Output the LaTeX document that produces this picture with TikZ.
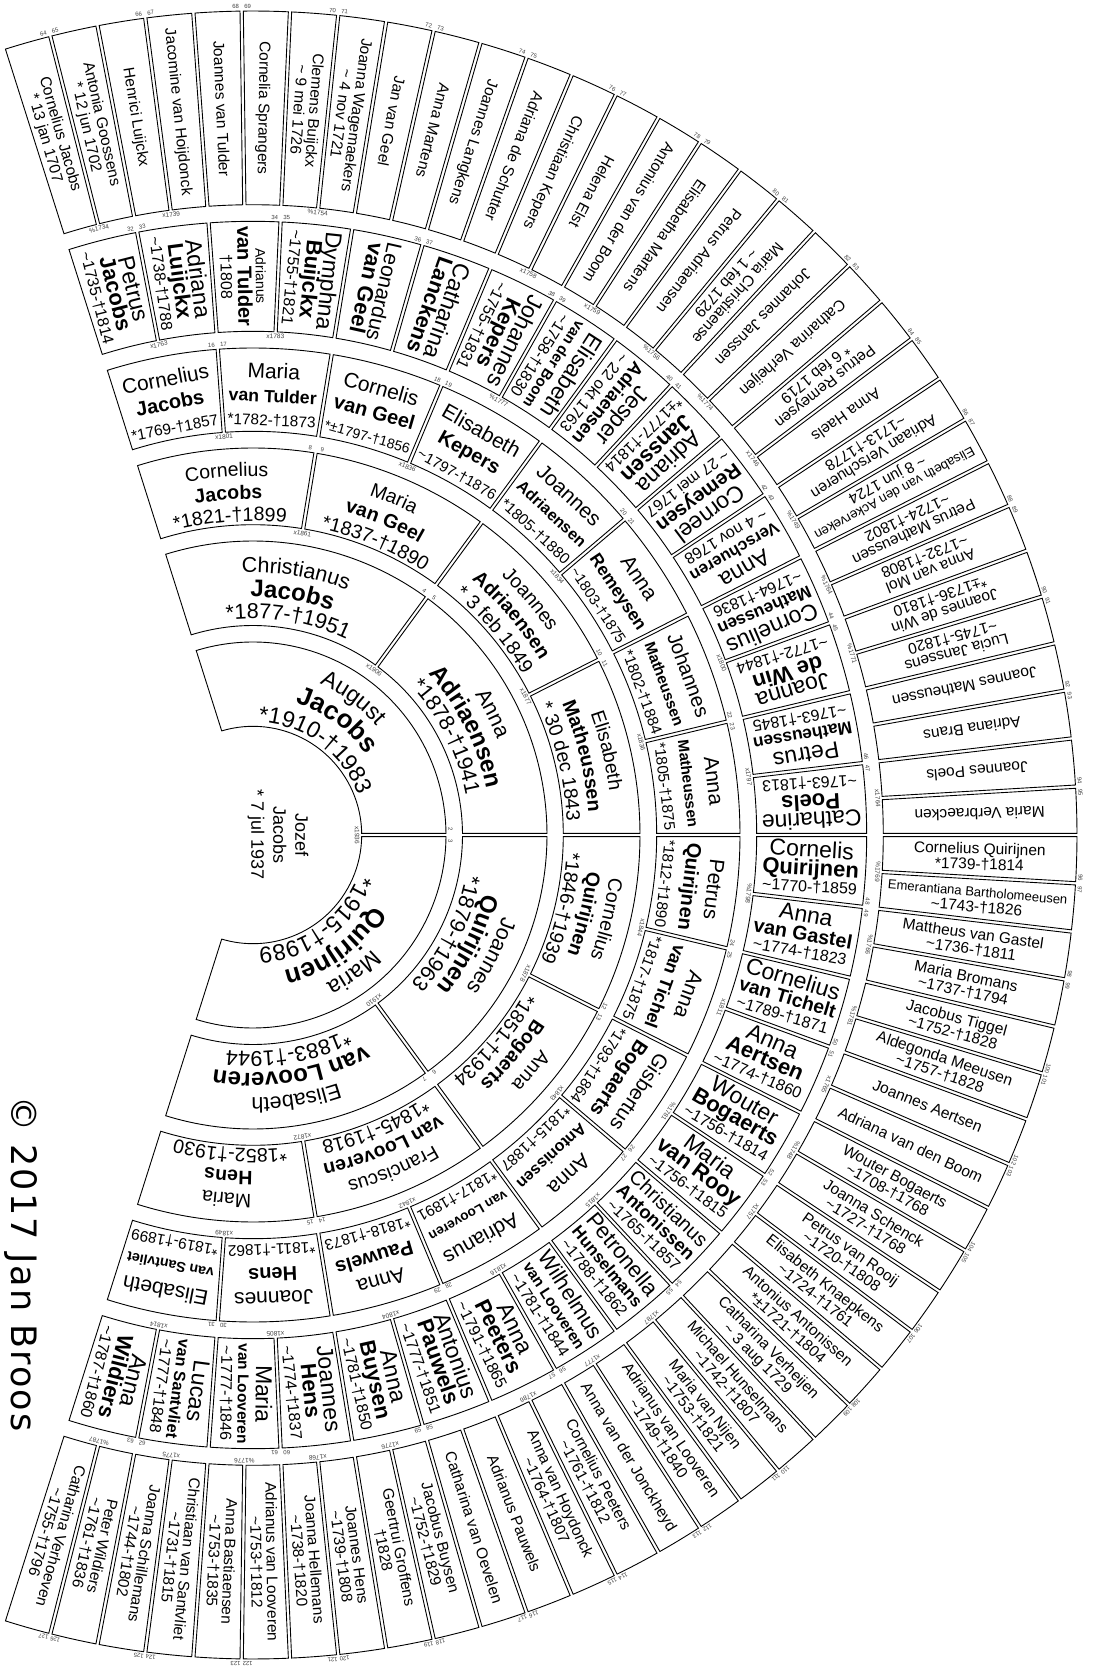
\documentclass[tikz,border=0pt]{standalone}
\usepackage{fontspec}
\usepackage{graphicx}
\setmainfont{Liberation Sans}
\newfontfamily\copyfont[LetterSpace=6]{DejaVu Sans}
\usetikzlibrary{decorations.text}

\newcommand{\fs}[1]{\fontsize{#1}{#1}\selectfont}
\newcommand{\Tl}{\symbol{"7E}}
% shrink a line if it is wider than #1
\newsavebox{\fitbox}
\newcommand{\fitw}[2]{\sbox{\fitbox}{#2}\ifdim\wd\fitbox>#1\relax\resizebox{#1}{!}{\usebox{\fitbox}}\else\usebox{\fitbox}\fi}

% one cell of the fan: inner radius, outer radius, upper angle, lower angle
\newcommand{\cellbox}[4]{%
  \pgfmathsetmacro\dI{asin(1.65/#1)}%
  \pgfmathsetmacro\dO{asin(1.65/#2)}%
  \pgfmathsetmacro\aO{#3-\dO}\pgfmathsetmacro\bO{#4+\dO}%
  \pgfmathsetmacro\aI{#3-\dI}\pgfmathsetmacro\bI{#4+\dI}%
  \draw[cellline] (\aO:#2) arc[start angle=\aO,end angle=\bO,radius=#2]
    -- (\bI:#1) arc[start angle=\bI,end angle=\aI,radius=#1] -- cycle;}

% text on arcs (generations 1-3)
\newcommand{\arcline}[2]{%
  \path[decorate,decoration={text along path,text align=center,text={#2}}]
    (\ta:#1) arc[start angle=\ta,end angle=\tb,radius=#1];}
\newcommand{\curvcell}[4]{%
  \pgfmathsetmacro\ta{107.6-(#1-1)*\cw}%
  \pgfmathsetmacro\tb{107.6-#1*\cw}%
  \arcline{\bA}{|\fs{\fA}|#2}
  \arcline{\bB}{|\fs{\fB}\bfseries|#3}
  \arcline{\bC}{|\fs{\fC}|#4}}

% one straight line of text: name, angle, radius, side offset, rotation, text
\newcommand{\lineat}[6]{%
  \pgfmathsetmacro\px{#3*cos(#2)+#4*cos(#5+90)}%
  \pgfmathsetmacro\py{#3*sin(#2)+#4*sin(#5+90)}%
  \node[textline,rotate=#5] (#1) at (\px,\py) {#6};}

% generation 4: tangential lines
\newcommand{\gfour}[4]{%
  \pgfmathsetmacro\tc{107.6-(#1-16+0.5)*13.45}%
  \lineat{p#1a}{\tc}{457}{0}{\tc-90}{\fitw{88pt}{\fs{21}#2}}
  \lineat{p#1b}{\tc}{433}{0}{\tc-90}{\fitw{88pt}{\fs{20}\bfseries #3}}
  \lineat{p#1c}{\tc}{409.5}{0}{\tc-90}{\fitw{88pt}{\fs{15.5}#4}}}
% generation 5: radial lines
\newcommand{\gfive}[4]{%
  \pgfmathsetmacro\tc{107.6-(#1-32+0.5)*6.725}%
  \pgfmathsetmacro\rr{\tc<0 ? \tc : \tc+180}%
  \if\relax\detokenize{#4}\relax
    \lineat{p#1a}{\tc}{558.7}{1.5}{\rr}{\fitw{100pt}{\fs{23}#2}}
    \lineat{p#1b}{\tc}{558.7}{-16.5}{\rr}{\fitw{100pt}{\fs{22}\bfseries #3}}
  \else
    \lineat{p#1a}{\tc}{558.7}{10.5}{\rr}{\fitw{100pt}{\fs{23}#2}}
    \lineat{p#1b}{\tc}{558.7}{-7.5}{\rr}{\fitw{100pt}{\fs{22}\bfseries #3}}
    \lineat{p#1c}{\tc}{558.7}{-24.5}{\rr}{\fitw{100pt}{\fs{16}#4}}
  \fi}
% generation 6: radial lines
\newcommand{\gsix}[3]{%
  \pgfmathsetmacro\tc{107.6-(#1-64+0.5)*3.3625}%
  \pgfmathsetmacro\rr{\tc<0 ? \tc : \tc+180}%
  \if\relax\detokenize{#3}\relax
    \lineat{p#1a}{\tc}{727}{-5.5}{\rr}{\fitw{180pt}{#2}}
  \else
    \lineat{p#1a}{\tc}{727}{2.3}{\rr}{\fitw{180pt}{#2}}
    \lineat{p#1b}{\tc}{727}{-13.3}{\rr}{\fitw{180pt}{#3}}
  \fi}
% marriage year under a couple: inner radius, cell width, boundary, text
\newcommand{\marr}[4]{%
  \pgfmathsetmacro\tm{107.6-#3*#2}%
  \node[marrlabel,rotate=\tm-90] (m#3) at ({\tm}:{#1-4.5}) {#4};}

\begin{document}
\begin{tikzpicture}[
    x=1pt, y=1pt,
    cellline/.style={line width=0.9pt, line join=miter},
    sosa/.style={font=\fs{6}, inner sep=0pt, text=black!75},
    marrlabel/.style={font=\fs{6.5}, inner sep=0pt, text=black!75},
    textline/.style={anchor=base, inner sep=0pt, font=\fs{15.5}}
    ]
    \useasboundingbox (-253,-831) rectangle (842,835);
    \fill[white] (-253,-831) rectangle (842,835);

    % rings of cells and Sosa numbers
    \foreach \n/\ri/\ro in {2/108.7/193,4/209.5/294,8/310.3/387,16/403.7/487,32/503.7/613.7,64/630.3/824}{%
      \pgfmathsetmacro\w{215.2/\n}%
      \foreach \k in {1,...,\n}{%
        \pgfmathsetmacro\ta{107.6-(\k-1)*\w}%
        \pgfmathsetmacro\tb{107.6-\k*\w}%
        \cellbox{\ri}{\ro}{\ta}{\tb}}%
      \pgfmathtruncatemacro\m{\n/2}%
      \foreach \j in {1,...,\m}{%
        \pgfmathsetmacro\tb{107.6-(2*\j-1)*\w}%
        \pgfmathsetmacro\off{deg(6/\ro)}%
        \pgfmathtruncatemacro\sa{\n+2*\j-2}%
        \pgfmathtruncatemacro\sb{\sa+1}%
        \node[sosa,rotate=\tb-90] (n\sa) at ({\tb+\off}:{\ro+4.5}) {\sa};
        \node[sosa,rotate=\tb-90] (n\sb) at ({\tb-\off}:{\ro+4.5}) {\sb};}}

    % marriages
    \marr{108.7}{107.6}{1}{x1936}
    \foreach \k/\y in {1/x1906,3/x1910}{\marr{209.5}{53.8}{\k}{\y}}
    \foreach \k/\y in {1/x1861,3/x1877,5/x1878,7/x1872}{\marr{310.3}{26.9}{\k}{\y}}
    \foreach \k/\y in {1/x1801,3/x1836,5/x1834,7/x1836,9/x1844,11/x1843,13/x1842,15/x1849}{\marr{403.7}{13.45}{\k}{\y}}
    \foreach \k/\y in {1/x1763,3/x1783,7/\%1777,13/x1800,15/x1797,17/\%1798,19/x1811,21/\%1781,23/x1815,25/x1816,27/x1804,29/x1805,31/x1814}{\marr{503.7}{6.725}{\k}{\y}}
    \foreach \k/\y in {1/\%1734,3/x1739,7/\%1754,13/x1758,15/x1759,17/\%1756,19/\%1774,21/x1746,23/\%1749,25/\%1764,27/\%1771,31/x1764,33/\%1769,35/\%1766,37/\%1781,39/x1765,41/\%1748,43/x1757,47/x1787,49/x1777,51/x1786,55/x1776,57/x1768,59/\%1776,61/x1775,63/\%1787}{\marr{630.3}{3.3625}{\k}{\y}}

    % generation 0
    \node[align=center, font=\fontsize{18}{22}\selectfont, rotate=-90] (p1) at (25,0) {Jozef\\Jacobs\\* 7 jul 1937};

    % generation 1
    \def\cw{107.6}\def\fA{23}\def\fB{26}\def\fC{23}\def\bA{165}\def\bB{139}\def\bC{113}
    \curvcell{1}{August}{Jacobs}{*1910-†1983}
    \curvcell{2}{Maria}{Quirijnen}{*1915-†1989}

    % generation 2
    \def\cw{53.8}\def\fA{21.5}\def\fB{24}\def\fC{21.5}\def\bA{262.5}\def\bB{238}\def\bC{216.5}
    \curvcell{1}{Christianus}{Jacobs}{*1877-†1951}
    \curvcell{2}{Anna}{Adriaensen}{*1878-†1941}
    \curvcell{3}{Joannes}{Quirijnen}{*1879-†1963}
    \curvcell{4}{Elisabeth}{van Looveren}{*1883-†1944}

    % generation 3
    \def\cw{26.9}\def\fA{19.5}\def\fB{19.5}\def\fC{19.5}\def\bA{359}\def\bB{336}\def\bC{314}
    \curvcell{1}{Cornelius}{Jacobs}{*1821-†1899}
    \curvcell{2}{Maria}{van Geel}{*1837-†1890}
    \curvcell{3}{Joannes}{Adriaensen}{* 3 feb 1849}
    \curvcell{4}{Elisabeth}{Matheussen}{* 30 dec 1843}
    \curvcell{5}{Cornelius}{Quirijnen}{*1846-†1939}
    \curvcell{6}{Anna}{Bogaerts}{*1851-†1934}
    \curvcell{7}{Franciscus}{van Looveren}{*1845-†1918}
    \curvcell{8}{Maria}{Hens}{*1852-†1930}

    % generation 4
    \gfour{16}{Cornelius}{Jacobs}{*1769-†1857}
    \gfour{17}{Maria}{van Tulder}{*1782-†1873}
    \gfour{18}{Cornelis}{van Geel}{*±1797-†1856}
    \gfour{19}{Elisabeth}{Kepers}{\Tl1797-†1876}
    \gfour{20}{Joannes}{Adriaensen}{*1805-†1880}
    \gfour{21}{Anna}{Remeysen}{\Tl1803-†1875}
    \gfour{22}{Johannes}{Matheussen}{*1802-†1884}
    \gfour{23}{Anna}{Matheussen}{*1805-†1875}
    \gfour{24}{Petrus}{Quirijnen}{*1812-†1890}
    \gfour{25}{Anna}{van Tichel}{*1817-†1875}
    \gfour{26}{Gisbertus}{Bogaerts}{*1793-†1864}
    \gfour{27}{Anna}{Antonissen}{*1815-†1887}
    \gfour{28}{Adrianus}{van Looveren}{*1817-†1891}
    \gfour{29}{Anna}{Pauwels}{*1818-†1873}
    \gfour{30}{Joannes}{Hens}{*1811-†1862}
    \gfour{31}{Elisabeth}{van Santvliet}{*1819-†1899}

    % generation 5
    \gfive{32}{Petrus}{Jacobs}{\Tl1735-†1814}
    \gfive{33}{Adriana}{Luijckx}{\Tl1738-†1788}
    \gfive{34}{\fs{14}Adrianus}{van Tulder}{†1808}
    \gfive{35}{Dymphna}{Buijckx}{\Tl1755-†1821}
    \gfive{36}{Leonardus}{van Geel}{}
    \gfive{37}{Catharina}{Lanckens}{}
    \gfive{38}{Johannes}{Kepers}{\Tl1755-†1831}
    \gfive{39}{Elisabeth}{van der Boom}{\Tl1758-†1830}
    \gfive{40}{Jesper}{Adriaensen}{\Tl~22 okt 1763}
    \gfive{41}{Adriana}{Janssen}{*±1777-†1814}
    \gfive{42}{Corneel}{Remeysen}{\Tl~27 mei 1767}
    \gfive{43}{Anna}{Verschueren}{\Tl~4 nov 1768}
    \gfive{44}{Cornelius}{Matheussen}{\Tl1764-†1836}
    \gfive{45}{Joanna}{de Win}{\Tl1772-†1844}
    \gfive{46}{Petrus}{Matheussen}{\Tl1763-†1845}
    \gfive{47}{Catharine}{Poels}{\Tl1763-†1813}
    \gfive{48}{Cornelis}{Quirijnen}{\Tl1770-†1859}
    \gfive{49}{Anna}{van Gastel}{\Tl1774-†1823}
    \gfive{50}{Cornelius}{van Tichelt}{\Tl1789-†1871}
    \gfive{51}{Anna}{Aertsen}{\Tl1774-†1860}
    \gfive{52}{Wouter}{Bogaerts}{\Tl1756-†1814}
    \gfive{53}{Maria}{van Rooy}{\Tl1756-†1815}
    \gfive{54}{Christianus}{Antonissen}{\Tl1765-†1857}
    \gfive{55}{Petronella}{Hunselmans}{\Tl1788-†1862}
    \gfive{56}{Wilhelmus}{van Looveren}{\Tl1781-†1844}
    \gfive{57}{Anna}{Peeters}{\Tl1791-†1865}
    \gfive{58}{Antonius}{Pauwels}{\Tl1777-†1851}
    \gfive{59}{Anna}{Buysen}{\Tl1781-†1850}
    \gfive{60}{Joannes}{Hens}{\Tl1774-†1837}
    \gfive{61}{Maria}{van Looveren}{\Tl1777-†1846}
    \gfive{62}{Lucas}{van Santvliet}{\Tl1777-†1848}
    \gfive{63}{Anna}{Wildiers}{\Tl1787-†1860}

    % generation 6
    \gsix{64}{Cornelius Jacobs}{* 13 jan 1707}
    \gsix{65}{Antonia Goossens}{* 12 jun 1702}
    \gsix{66}{Henrici Luijckx}{}
    \gsix{67}{Jacomine van Hoijdonck}{}
    \gsix{68}{Joannes van Tulder}{}
    \gsix{69}{Cornelia Sprangers}{}
    \gsix{70}{Clemens Buijckx}{\Tl~9 mei 1726}
    \gsix{71}{Joanna Wagemaekers}{\Tl~4 nov 1721}
    \gsix{72}{Jan van Geel}{}
    \gsix{73}{Anna Martens}{}
    \gsix{74}{Joannes Langkens}{}
    \gsix{75}{Adriana de Schutter}{}
    \gsix{76}{Christiaan Kepers}{}
    \gsix{77}{Helena Elst}{}
    \gsix{78}{Antonius van der Boom}{}
    \gsix{79}{Elisabetha Martens}{}
    \gsix{80}{Petrus Adriaensen}{}
    \gsix{81}{Maria Christiaense}{\Tl~1 feb 1729}
    \gsix{82}{Johannes Janssen}{}
    \gsix{83}{Catharina Verheijen}{}
    \gsix{84}{Petrus Remeysen}{* 6 feb 1719}
    \gsix{85}{Anna Haels}{}
    \gsix{86}{Adriaan Verschueren}{\Tl1713-†1778}
    \gsix{87}{Elisabeth van den Ackerveken}{\Tl~8 jun 1724}
    \gsix{88}{Petrus Matheussen}{\Tl1724-†1802}
    \gsix{89}{Anna van Mol}{\Tl1732-†1808}
    \gsix{90}{Joannes de Win}{*±1736-†1810}
    \gsix{91}{Lucia Janssens}{\Tl1745-†1820}
    \gsix{92}{Joannes Matheussen}{}
    \gsix{93}{Adriana Brans}{}
    \gsix{94}{Joannes Poels}{}
    \gsix{95}{Maria Verbraecken}{}
    \gsix{96}{Cornelius Quirijnen}{*1739-†1814}
    \gsix{97}{Emerantiana Bartholomeeusen}{\Tl1743-†1826}
    \gsix{98}{Mattheus van Gastel}{\Tl1736-†1811}
    \gsix{99}{Maria Bromans}{\Tl1737-†1794}
    \gsix{100}{Jacobus Tiggel}{\Tl1752-†1828}
    \gsix{101}{Aldegonda Meeusen}{\Tl1757-†1828}
    \gsix{102}{Joannes Aertsen}{}
    \gsix{103}{Adriana van den Boom}{}
    \gsix{104}{Wouter Bogaerts}{\Tl1708-†1768}
    \gsix{105}{Joanna Schenck}{\Tl1727-†1768}
    \gsix{106}{Petrus van Rooij}{\Tl1720-†1808}
    \gsix{107}{Elisabeth Knaepkens}{\Tl1724-†1761}
    \gsix{108}{Antonius Antonissen}{*±1721-†1804}
    \gsix{109}{Catharina Verheijen}{\Tl~3 aug 1729}
    \gsix{110}{Michael Hunselmans}{\Tl1742-†1807}
    \gsix{111}{Maria van Nijen}{\Tl1753-†1821}
    \gsix{112}{Adrianus van Looveren}{\Tl1749-†1840}
    \gsix{113}{Anna van der Jonckheyd}{}
    \gsix{114}{Cornelius Peeters}{\Tl1761-†1812}
    \gsix{115}{Anna van Hoydonck}{\Tl1764-†1807}
    \gsix{116}{Adrianus Pauwels}{}
    \gsix{117}{Catharina van Oevelen}{}
    \gsix{118}{Jacobus Buysen}{\Tl1752-†1829}
    \gsix{119}{Geertrui Groffens}{†1828}
    \gsix{120}{Joannes Hens}{\Tl1739-†1808}
    \gsix{121}{Joanna Hellemans}{\Tl1738-†1820}
    \gsix{122}{Adrianus van Looveren}{\Tl1753-†1812}
    \gsix{123}{Anna Bastiaensen}{\Tl1753-†1835}
    \gsix{124}{Christiaan van Santvliet}{\Tl1731-†1815}
    \gsix{125}{Joanna Schillemans}{\Tl1744-†1802}
    \gsix{126}{Peter Wildiers}{\Tl1761-†1836}
    \gsix{127}{Catharina Verhoeven}{\Tl1755-†1796}

    \node[rotate=-90, font=\copyfont\fs{35}] (copy) at (-232,-429) {© 2017 Jan Broos};
\end{tikzpicture}
\end{document}
